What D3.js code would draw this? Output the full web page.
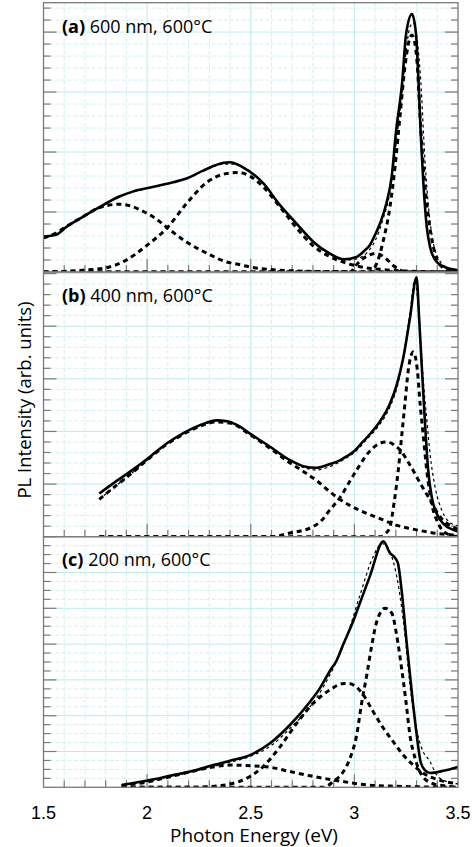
<!DOCTYPE html>
<html><head><meta charset="utf-8">
<script src="https://cdn.jsdelivr.net/npm/d3@7"></script>
<style>body{margin:0;background:#fff}svg{display:block}</style>
</head><body><div id="chart"></div>
<script>
// ---------- DATA (photon energy eV, PL intensity arb. units) ----------
const xTicks = [1.5, 2, 2.5, 3, 3.5];
const xTickLabels = ["1.5", "2", "2.5", "3", "3.5"];
const panelLabels = [["(a)", " 600 nm, 600°C"], ["(b)", " 400 nm, 600°C"], ["(c)", " 200 nm, 600°C"]];

// Panel (a)
const aMeasured = [[1.50,0.59],[1.56,0.62],[1.61,0.75],[1.69,0.92],[1.77,1.08],[1.86,1.25],[1.93,1.34],[2.03,1.42],[2.13,1.50],[2.19,1.56],[2.27,1.69],[2.37,1.82],[2.40,1.83],[2.46,1.75],[2.56,1.48],[2.64,1.12],[2.72,0.81],[2.80,0.51],[2.88,0.31],[2.95,0.21],[3.01,0.25],[3.05,0.36],[3.075,0.45],[3.10,0.62],[3.125,0.82],[3.155,1.15],[3.18,1.59],[3.20,2.31],[3.23,3.14],[3.25,3.98],[3.278,4.30],[3.297,3.98],[3.31,3.14],[3.32,2.31],[3.333,1.48],[3.349,0.76],[3.365,0.42],[3.397,0.17],[3.445,0.07],[3.50,0.03]];
const aFit = [[1.50,0.58],[1.56,0.62],[1.61,0.75],[1.69,0.92],[1.77,1.08],[1.86,1.24],[1.93,1.33],[2.03,1.42],[2.13,1.50],[2.19,1.56],[2.27,1.68],[2.37,1.80],[2.42,1.80],[2.48,1.72],[2.56,1.48],[2.64,1.12],[2.72,0.80],[2.80,0.50],[2.88,0.30],[2.95,0.20],[3.01,0.22],[3.06,0.32],[3.10,0.52],[3.14,0.90],[3.17,1.30],[3.20,2.10],[3.23,3.00],[3.25,3.70],[3.27,4.10],[3.285,4.15],[3.30,3.95],[3.32,3.20],[3.34,1.90],[3.36,1.00],[3.38,0.50],[3.41,0.20],[3.45,0.07],[3.50,0.03]];
const aComp1 = [[1.50,0.57],[1.56,0.65],[1.62,0.78],[1.69,0.92],[1.76,1.06],[1.81,1.11],[1.86,1.13],[1.92,1.10],[1.97,1.03],[2.05,0.87],[2.10,0.73],[2.19,0.50],[2.29,0.31],[2.38,0.17],[2.45,0.12],[2.50,0.08],[2.60,0.04],[2.70,0.02],[2.80,0.01],[3.50,0]];
const aComp2 = [[1.50,0],[1.60,0.01],[1.69,0.03],[1.80,0.07],[1.89,0.18],[1.99,0.42],[2.10,0.75],[2.19,1.14],[2.29,1.50],[2.38,1.64],[2.44,1.66],[2.50,1.59],[2.56,1.42],[2.64,1.09],[2.72,0.74],[2.80,0.44],[2.88,0.26],[2.96,0.15],[3.04,0.08],[3.14,0.04],[3.30,0.01],[3.50,0]];
const aComp3 = [[1.50,0],[2.98,0],[3.01,0.12],[3.04,0.22],[3.07,0.28],[3.10,0.31],[3.13,0.28],[3.16,0.20],[3.19,0.10],[3.22,0.03],[3.25,0],[3.50,0]];
const aComp4 = [[1.50,0],[3.07,0],[3.108,0.145],[3.14,0.53],[3.172,1.09],[3.196,1.75],[3.22,2.59],[3.244,3.42],[3.261,3.81],[3.277,3.95],[3.29,3.85],[3.304,3.42],[3.317,2.59],[3.333,1.75],[3.357,0.92],[3.381,0.42],[3.413,0.12],[3.46,0.02],[3.50,0]];

// Panel (b)
const bMeasured = [[1.769,0.82],[1.853,1.06],[1.933,1.28],[2.014,1.52],[2.094,1.77],[2.175,1.97],[2.255,2.12],[2.336,2.21],[2.38,2.20],[2.448,2.09],[2.496,1.96],[2.593,1.71],[2.689,1.455],[2.754,1.34],[2.818,1.31],[2.882,1.38],[2.93,1.45],[2.96,1.52],[3.00,1.63],[3.04,1.80],[3.08,1.97],[3.12,2.17],[3.172,2.53],[3.204,2.88],[3.236,3.40],[3.268,4.15],[3.30,4.93],[3.313,4.11],[3.325,3.25],[3.34,2.21],[3.356,1.27],[3.373,0.76],[3.397,0.44],[3.429,0.25],[3.477,0.13],[3.50,0.10]];
const bFit = [[1.769,0.71],[1.85,0.97],[1.93,1.22],[2.01,1.49],[2.09,1.75],[2.175,1.96],[2.255,2.11],[2.336,2.19],[2.40,2.18],[2.50,1.95],[2.60,1.70],[2.70,1.43],[2.76,1.31],[2.82,1.27],[2.88,1.33],[2.95,1.47],[3.00,1.60],[3.06,1.85],[3.12,2.12],[3.17,2.45],[3.21,2.90],[3.24,3.50],[3.27,4.30],[3.29,4.86],[3.31,4.30],[3.33,3.10],[3.35,2.20],[3.365,1.58],[3.389,0.95],[3.421,0.51],[3.469,0.25],[3.50,0.21]];
const bComp1 = [[1.769,0.71],[1.85,0.97],[1.93,1.22],[2.01,1.49],[2.09,1.74],[2.175,1.95],[2.255,2.10],[2.336,2.18],[2.40,2.16],[2.50,1.93],[2.60,1.66],[2.69,1.40],[2.75,1.25],[2.82,1.06],[2.88,0.86],[2.93,0.71],[3.02,0.51],[3.12,0.35],[3.21,0.21],[3.30,0.13],[3.40,0.06],[3.50,0.03]];
const bComp2 = [[1.769,0],[2.60,0],[2.689,0.07],[2.80,0.19],[2.84,0.30],[2.88,0.50],[2.93,0.74],[2.97,1.00],[3.01,1.26],[3.075,1.63],[3.12,1.77],[3.156,1.80],[3.19,1.75],[3.22,1.65],[3.27,1.35],[3.317,1.02],[3.365,0.70],[3.413,0.38],[3.477,0.18],[3.50,0.14]];
const bComp3 = [[1.769,0],[3.13,0],[3.148,0.05],[3.172,0.19],[3.191,0.63],[3.212,1.27],[3.228,1.90],[3.244,2.53],[3.26,3.16],[3.284,3.51],[3.304,3.16],[3.317,2.53],[3.333,1.90],[3.349,1.27],[3.373,0.63],[3.405,0.25],[3.445,0.06],[3.50,0]];

// Panel (c)
const cMeasured = [[1.877,0.065],[1.998,0.185],[2.11,0.32],[2.223,0.46],[2.32,0.62],[2.40,0.74],[2.496,0.90],[2.593,1.23],[2.689,1.74],[2.786,2.39],[2.834,2.77],[2.882,3.25],[2.915,3.55],[2.947,4.00],[2.995,4.65],[3.011,4.90],[3.075,5.90],[3.14,6.87],[3.172,6.54],[3.19,6.45],[3.21,6.26],[3.228,5.50],[3.253,4.00],[3.28,2.50],[3.30,1.50],[3.32,0.70],[3.34,0.48],[3.365,0.40],[3.429,0.46],[3.50,0.57]];
const cFit = [[1.877,0.06],[2.00,0.17],[2.11,0.30],[2.22,0.44],[2.32,0.58],[2.40,0.70],[2.50,0.87],[2.60,1.17],[2.69,1.65],[2.79,2.28],[2.85,2.80],[2.90,3.35],[2.963,4.20],[3.027,5.37],[3.091,6.45],[3.132,6.81],[3.16,6.70],[3.188,6.30],[3.212,5.65],[3.244,4.25],[3.268,2.86],[3.293,1.83],[3.325,1.09],[3.365,0.72],[3.397,0.34],[3.43,0.20],[3.47,0.12],[3.50,0.10]];
const cComp1 = [[1.877,0.05],[2.00,0.15],[2.10,0.28],[2.20,0.42],[2.30,0.55],[2.40,0.62],[2.50,0.60],[2.593,0.56],[2.689,0.44],[2.786,0.32],[2.882,0.22],[2.979,0.13],[3.075,0.06],[3.20,0.03],[3.50,0]];
const cComp2 = [[1.877,0],[2.20,0],[2.30,0.02],[2.40,0.09],[2.48,0.25],[2.56,0.58],[2.641,1.13],[2.722,1.79],[2.802,2.35],[2.882,2.72],[2.94,2.89],[2.97,2.90],[3.01,2.80],[3.043,2.58],[3.091,2.11],[3.14,1.65],[3.188,1.27],[3.236,0.90],[3.284,0.62],[3.333,0.39],[3.40,0.22],[3.50,0.10]];
const cComp3 = [[1.877,0],[2.85,0],[2.898,0.16],[2.947,0.44],[2.979,0.81],[3.011,1.46],[3.035,2.35],[3.06,3.14],[3.084,3.97],[3.108,4.63],[3.148,5.00],[3.181,4.86],[3.204,4.25],[3.228,3.32],[3.249,2.39],[3.268,1.46],[3.293,0.81],[3.325,0.34],[3.38,0.10],[3.45,0.03],[3.50,0]];

// ---------- LAYOUT ----------
const W = 474, H = 847;
const svg = d3.select("#chart").append("svg").attr("width", W).attr("height", H);
const x = d3.scaleLinear().domain([1.5, 3.5]).range([43.5, 458]);

const panels = [
  {top: 2.7, bottom: 272, ymax: 4.49, minor: 0.2, label: panelLabels[0], ly: 33,
   meas: aMeasured, fit: aFit, comps: [aComp1, aComp2, aComp3, aComp4]},
  {top: 272, bottom: 536.7, ymax: 5.03, minor: 0.2, label: panelLabels[1], ly: 302,
   meas: bMeasured, fit: bFit, comps: [bComp1, bComp2, bComp3]},
  {top: 536.7, bottom: 787.3, ymax: 7.0, minor: 0.25, label: panelLabels[2], ly: 566,
   meas: cMeasured, fit: cFit, comps: [cComp1, cComp2, cComp3]}
];

const gridMajor = "#bfeaea", gridMinor = "#d3f0f0", axisCol = "#7a7a7a";
const xMinor = d3.range(15, 36).map(d => d / 10);

panels.forEach((p, i) => {
  const y = d3.scaleLinear().domain([0, p.ymax]).range([p.bottom, p.top]);
  const g = svg.append("g");
  const clipId = "clip" + i;
  svg.append("clipPath").attr("id", clipId).append("rect")
    .attr("x", x(1.5)).attr("y", p.top).attr("width", x(3.5) - x(1.5)).attr("height", p.bottom - p.top);

  const yMinorTicks = d3.range(0, Math.floor(p.ymax / p.minor + 1e-6) + 1).map(k => +(k * p.minor).toFixed(3));
  const isMajorY = v => Math.abs(v - Math.round(v)) < 1e-6;
  const isMajorX = v => Math.abs(v * 2 - Math.round(v * 2)) < 1e-6;

  // grid
  const grid = g.append("g");
  grid.selectAll(".vg").data(xMinor.filter(v => v > 1.5 && v < 3.5)).join("line")
    .attr("x1", d => x(d)).attr("x2", d => x(d)).attr("y1", p.top).attr("y2", p.bottom)
    .attr("stroke", d => isMajorX(d) ? gridMajor : gridMinor).attr("stroke-width", 1)
    .attr("stroke-dasharray", d => isMajorX(d) ? null : "4,2");
  grid.selectAll(".hg").data(yMinorTicks.filter(v => v > 0)).join("line")
    .attr("x1", x(1.5)).attr("x2", x(3.5)).attr("y1", d => y(d)).attr("y2", d => y(d))
    .attr("stroke", d => isMajorY(d) ? gridMajor : gridMinor).attr("stroke-width", 1)
    .attr("stroke-dasharray", d => isMajorY(d) ? null : "4,2");

  // ticks (inward)
  const tk = g.append("g").attr("stroke", axisCol).attr("stroke-width", 1.2);
  tk.selectAll(".lt").data(yMinorTicks.filter(v => v > 0)).join("line")
    .attr("x1", x(1.5)).attr("x2", d => x(1.5) + (isMajorY(d) ? 13 : 7))
    .attr("y1", d => y(d)).attr("y2", d => y(d));
  tk.selectAll(".rt").data(yMinorTicks.filter(v => v > 0)).join("line")
    .attr("x1", x(3.5)).attr("x2", d => x(3.5) - (isMajorY(d) ? 13 : 7))
    .attr("y1", d => y(d)).attr("y2", d => y(d));
  tk.selectAll(".bt").data(xMinor.filter(v => v > 1.5 && v < 3.5)).join("line")
    .attr("x1", d => x(d)).attr("x2", d => x(d))
    .attr("y1", p.bottom).attr("y2", d => p.bottom - (isMajorX(d) ? 13 : 7));

  // curves
  const line = d3.line().x(d => x(d[0])).y(d => y(d[1])).curve(d3.curveMonotoneX);
  const cg = g.append("g").attr("clip-path", `url(#${clipId})`);
  p.comps.forEach(c => {
    cg.append("path").datum(c).attr("d", line).attr("fill", "none")
      .attr("stroke", "#000").attr("stroke-width", 3).attr("stroke-dasharray", "5,4");
  });
  cg.append("path").datum(p.fit).attr("d", line).attr("fill", "none")
    .attr("stroke", "#000").attr("stroke-width", 1.2).attr("stroke-dasharray", "3,3");
  cg.append("path").datum(p.meas).attr("d", line).attr("fill", "none")
    .attr("stroke", "#000").attr("stroke-width", 2.6).attr("stroke-linejoin", "round");

  // frame
  g.append("rect").attr("x", x(1.5)).attr("y", p.top).attr("width", x(3.5) - x(1.5))
    .attr("height", p.bottom - p.top).attr("fill", "none").attr("stroke", axisCol).attr("stroke-width", 1.3);

  // label
  const t = g.append("text").attr("x", 62).attr("y", p.ly)
    .attr("font-family", "'Open Sans', sans-serif").attr("font-size", 18).attr("fill", "#000");
  t.append("tspan").attr("font-weight", "bold").text(p.label[0]);
  t.append("tspan").text(p.label[1]);
});

// x tick labels
svg.append("g").selectAll("text").data(xTicks).join("text")
  .attr("x", d => x(d)).attr("y", 819).attr("text-anchor", "middle")
  .attr("font-family", "'Liberation Sans', Arial, sans-serif").attr("font-size", 18).attr("fill", "#000")
  .text((d, i) => xTickLabels[i]);

// axis titles
svg.append("text").attr("x", 254).attr("y", 842).attr("text-anchor", "middle")
  .attr("font-family", "'Open Sans', sans-serif").attr("font-size", 19).attr("fill", "#000")
  .text("Photon Energy (eV)");
svg.append("text").attr("transform", "translate(31,400) rotate(-90)").attr("text-anchor", "middle")
  .attr("font-family", "'Open Sans', sans-serif").attr("font-size", 18.5).attr("fill", "#000")
  .text("PL Intensity (arb. units)");
</script></body></html>
